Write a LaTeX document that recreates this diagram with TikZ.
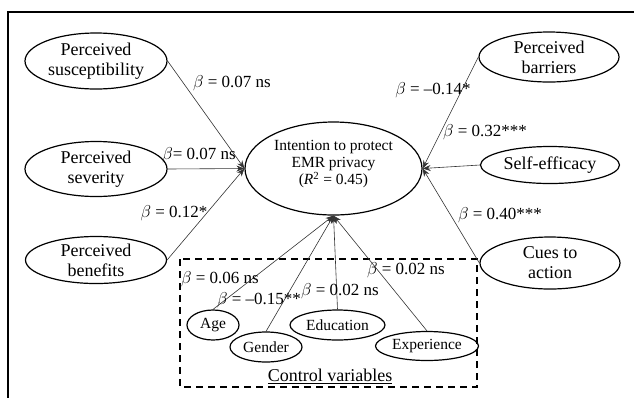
\documentclass[tikz,border=0pt]{standalone}
\usepackage{fontspec}
\setmainfont{Liberation Serif}
\usetikzlibrary{shapes.geometric,arrows.meta}
\begin{document}
\begin{tikzpicture}[x=1bp,y=-1bp,
  ell/.style={draw, ellipse, line width=1.2bp, inner sep=0pt},
  bigtxt/.style={font=\fontsize{18bp}{20bp}\selectfont, align=center, inner sep=0pt},
  midtxt/.style={font=\fontsize{15.5bp}{17bp}\selectfont, align=center, inner sep=0pt},
  coef/.style={font=\fontsize{17bp}{19bp}\selectfont, inner sep=0pt},
  conn/.style={line width=0.6bp, draw=black!80, -{Stealth[length=8bp,width=6bp]}},
  frameline/.style={line width=2bp}
]
\useasboundingbox (0,0) rectangle (634,398);
\draw[frameline] (634,12) -- (8,12) -- (8,398);

% dashed box for control variables
\draw[line width=1.8bp, dash pattern=on 7bp off 5bp] (180,259) rectangle (477,387);
\node[bigtxt] (cv) at (330,376) {\underline{Control variables}};

% central node
\node[ell, minimum width=177bp, minimum height=93bp] (c) at (333.5,168.5) {};
\node[midtxt] (ct) at (333.5,164) {Intention to protect\\EMR privacy\\(\textit{R}\textsuperscript{2} = 0.45)};

% left nodes
\node[ell, minimum width=142bp, minimum height=56bp] (ps) at (96,61) {};
\node[bigtxt] at (ps) {Perceived\\susceptibility};
\node[ell, minimum width=142bp, minimum height=55bp] (pv) at (96,169) {};
\node[bigtxt] at (pv) {Perceived\\severity};
\node[ell, minimum width=141bp, minimum height=47bp] (pb) at (96,260) {};
\node[bigtxt] at (pb) {Perceived\\benefits};

% right nodes
\node[ell, minimum width=140bp, minimum height=50bp] (pr) at (549,57) {};
\node[bigtxt] at (pr) {Perceived\\barriers};
\node[ell, minimum width=139bp, minimum height=37bp] (se) at (550,165) {};
\node[bigtxt] at (se) {Self-efficacy};
\node[ell, minimum width=140bp, minimum height=52bp] (ca) at (550,263) {};
\node[bigtxt] at (ca) {Cues to\\action};

% control nodes
\node[ell, minimum width=52bp, minimum height=30bp] (age) at (213,325) {};
\node[midtxt] at (age) {Age};
\node[ell, minimum width=72bp, minimum height=30bp] (gen) at (266,347) {};
\node[midtxt] at (gen) {Gender};
\node[ell, minimum width=95bp, minimum height=30bp] (edu) at (337.5,325) {};
\node[midtxt] at (edu) {Education};
\node[ell, minimum width=103bp, minimum height=29bp] (exp) at (427,346) {};
\node[midtxt] at (exp) {Experience};

% connectors
\draw[conn] (ps.east) -- (c.west);
\draw[conn] (pv.east) -- (c.west);
\draw[conn] (pb.east) -- (c.west);
\draw[conn] (pr.west) -- (c.east);
\draw[conn] (se.west) -- (c.east);
\draw[conn] (ca.west) -- (c.east);
\draw[conn] (age.north) -- (c.south);
\draw[conn] (gen.north) -- (c.south);
\draw[conn] (edu.north) -- (c.south);
\draw[conn] (exp.north) -- (c.south);

% coefficient labels
\node[coef] (l1) at (232,83) {$\beta$ = 0.07 ns};
\node[coef] (l2) at (199,155) {$\beta$= 0.07 ns};
\node[coef] (l3) at (174,213) {$\beta$ = 0.12*};
\node[coef] (l4) at (433,90) {$\beta$ = –0.14*};
\node[coef] (l5) at (485,132) {$\beta$ = 0.32***};
\node[coef] (l6) at (500,215) {$\beta$ = 0.40***};
\node[coef] (l7) at (220,279) {$\beta$ = 0.06 ns};
\node[coef] (l8) at (259,300) {$\beta$ = –0.15**};
\node[coef] (l9) at (340,291) {$\beta$ = 0.02 ns};
\node[coef] (l10) at (406,270) {$\beta$ = 0.02 ns};
\end{tikzpicture}
\end{document}
